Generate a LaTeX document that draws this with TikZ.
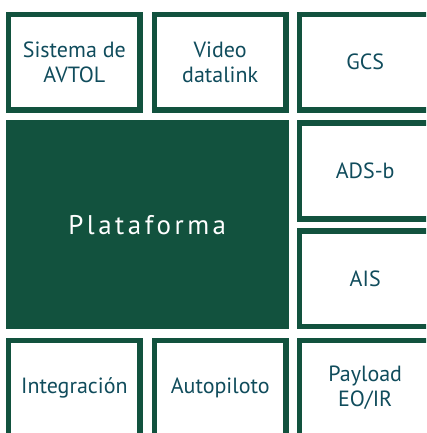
\documentclass[tikz,border=0pt]{standalone}
\usepackage{fontspec}
\setmainfont{PT Sans}
\definecolor{platgreen}{RGB}{18,82,62}
\definecolor{labelblue}{RGB}{16,76,92}
\tikzset{
	frame/.style={draw=platgreen, line width=5.5pt, line join=miter},
	cell/.style={text=labelblue, align=center, font=\fontsize{22}{25}\selectfont},
	plattext/.style={text=white, font=\fontsize{27}{30}\selectfont\addfontfeature{LetterSpace=13}}
}

\begin{document}
\begin{tikzpicture}[x=1pt, y=-1pt]
			%%%%% START %%%%%
			
			\useasboundingbox (0, 0) rectangle (426, 433);
			\clip (0, 0) rectangle (426, 433);
			
			% frames, left and middle column
			\draw[frame] (8.5, 14.5) rectangle (140.2, 110);
			\draw[frame] (154.5, 14.5) rectangle (285.9, 110);
			\draw[frame] (140.2, 450) -- (140.2, 340.5) -- (8.5, 340.5) -- (8.5, 450);
			\draw[frame] (285.9, 450) -- (285.9, 340.5) -- (154.5, 340.5) -- (154.5, 450);
			
			% frames, right column (cut by the edge)
			\draw[frame] (430, 14.5) -- (299.5, 14.5) -- (299.5, 110) -- (430, 110);
			\draw[frame] (430, 122.8) -- (299.5, 122.8) -- (299.5, 219) -- (430, 219);
			\draw[frame] (430, 231.1) -- (299.5, 231.1) -- (299.5, 326.6) -- (430, 326.6);
			\draw[frame] (430, 340.5) -- (299.5, 340.5) -- (299.5, 450);
			
			\fill[platgreen] (5.7, 120) rectangle (288.7, 329.3);
			
			% top row
			\node[cell] (avtol) at (74.35, 62.2) {Sistema de\\AVTOL};
			\node[cell] (video) at (220.2, 62.2) {Video\\datalink};
			\node[cell] (gcs) at (365.2, 62.2) {GCS};
			
			% middle
			\node[plattext] (plat) at (147.2, 224.65) {Plataforma};
			\node[cell] (adsb) at (365.2, 170.85) {ADS-b};
			\node[cell] (ais) at (365.2, 278.8) {AIS};
			
			% bottom row
			\node[cell] (integ) at (74.35, 388.2) {Integración};
			\node[cell] (autop) at (220.2, 388.2) {Autopiloto};
			\node[cell] (payload) at (365.2, 388.2) {Payload\\EO/IR};
			
			%%%%% END %%%%%
		\end{tikzpicture}
\end{document}
